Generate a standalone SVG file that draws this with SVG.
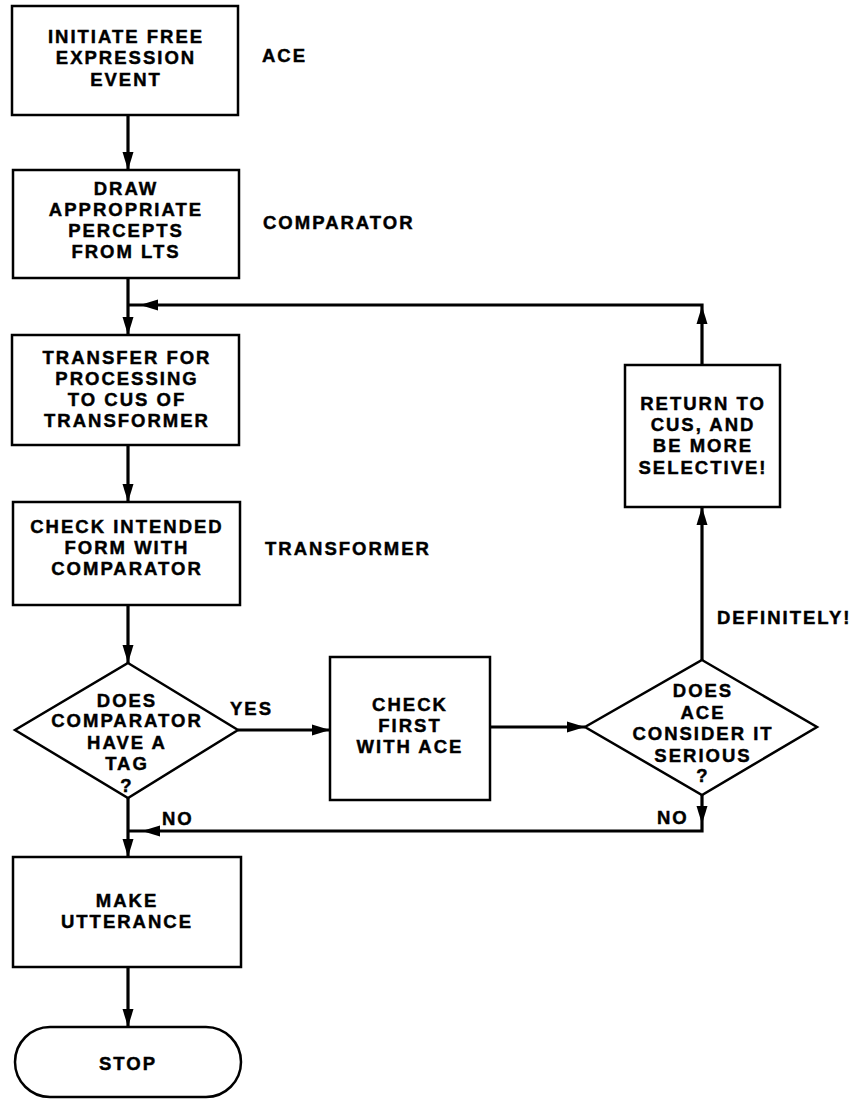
<svg xmlns="http://www.w3.org/2000/svg" xmlns:xlink="http://www.w3.org/1999/xlink" width="860" height="1107" viewBox="0 0 860 1107">
<style>
.box{fill:#fff;stroke:#000;stroke-width:2.5}
.t{font-family:"Liberation Sans",Arial,sans-serif;font-weight:bold;font-size:18.5px;letter-spacing:2px;fill:#000;stroke:#000;stroke-width:0.45}
.c{text-anchor:middle}
.ln{fill:none;stroke:#000;stroke-width:3.2}
</style>
<defs>
<path id="ah" d="M0,0 L-18,-5.5 L-18,5.5 Z" fill="#000"/>
</defs>
<rect width="860" height="1107" fill="#fff"/>
<g id="connectors">
<path class="ln" d="M128,115 V170"/>
<use xlink:href="#ah" href="#ah" transform="translate(128,170) rotate(90)"/>
<path class="ln" d="M128,278 V335"/>
<use xlink:href="#ah" href="#ah" transform="translate(128,335) rotate(90)"/>
<path class="ln" d="M702,365 V305 H128"/>
<use xlink:href="#ah" href="#ah" transform="translate(702,306) rotate(-90)"/>
<use xlink:href="#ah" href="#ah" transform="translate(140,305) rotate(180)"/>
<path class="ln" d="M128,445 V502"/>
<use xlink:href="#ah" href="#ah" transform="translate(128,502) rotate(90)"/>
<path class="ln" d="M128,605 V663"/>
<use xlink:href="#ah" href="#ah" transform="translate(128,663) rotate(90)"/>
<path class="ln" d="M238,730 H330"/>
<use xlink:href="#ah" href="#ah" transform="translate(330,730)"/>
<path class="ln" d="M490,727 H585"/>
<use xlink:href="#ah" href="#ah" transform="translate(585,727)"/>
<path class="ln" d="M702,660 V507"/>
<use xlink:href="#ah" href="#ah" transform="translate(702,507) rotate(-90)"/>
<path class="ln" d="M702,795 V831 H128"/>
<use xlink:href="#ah" href="#ah" transform="translate(702,824) rotate(90)"/>
<use xlink:href="#ah" href="#ah" transform="translate(142,831) rotate(180)"/>
<path class="ln" d="M128,798 V857"/>
<use xlink:href="#ah" href="#ah" transform="translate(128,857) rotate(90)"/>
<path class="ln" d="M128,967 V1027"/>
<use xlink:href="#ah" href="#ah" transform="translate(128,1027) rotate(90)"/>
</g>
<g id="n-initiate">
<rect class="box" x="12" y="6" width="226" height="109"/>
<text class="t c" x="126" y="42.5">INITIATE FREE</text>
<text class="t c" x="126" y="63.5">EXPRESSION</text>
<text class="t c" x="126" y="85.5">EVENT</text>
</g>
<g id="n-draw">
<rect class="box" x="13" y="170" width="226" height="108"/>
<text class="t c" x="126" y="194.5">DRAW</text>
<text class="t c" x="126" y="216">APPROPRIATE</text>
<text class="t c" x="126" y="237">PERCEPTS</text>
<text class="t c" x="126" y="258">FROM LTS</text>
</g>
<g id="n-transfer">
<rect class="box" x="12" y="335" width="227" height="110"/>
<text class="t c" x="127" y="363.5">TRANSFER FOR</text>
<text class="t c" x="127" y="384.5">PROCESSING</text>
<text class="t c" x="127" y="405.5">TO CUS OF</text>
<text class="t c" x="127" y="426.5">TRANSFORMER</text>
</g>
<g id="n-check-intended">
<rect class="box" x="13" y="502" width="227" height="103"/>
<text class="t c" x="127" y="532.5">CHECK INTENDED</text>
<text class="t c" x="127" y="553.5">FORM WITH</text>
<text class="t c" x="127" y="574.5">COMPARATOR</text>
</g>
<g id="n-tag">
<polygon class="box" points="128,663 238,730 128,798 15,730"/>
<text class="t c" x="127" y="706.5">DOES</text>
<text class="t c" x="127" y="726.5">COMPARATOR</text>
<text class="t c" x="127" y="748.5">HAVE A</text>
<text class="t c" x="127" y="769.5">TAG</text>
<text class="t c" x="127" y="791.5">?</text>
</g>
<g id="n-check-first">
<rect class="box" x="330" y="657" width="160" height="143"/>
<text class="t c" x="410" y="710.5">CHECK</text>
<text class="t c" x="410" y="731.5">FIRST</text>
<text class="t c" x="410" y="752.5">WITH ACE</text>
</g>
<g id="n-serious">
<polygon class="box" points="702,660 817,727 702,795 585,727"/>
<text class="t c" x="703" y="696.5">DOES</text>
<text class="t c" x="703" y="718.5">ACE</text>
<text class="t c" x="703" y="739.5">CONSIDER IT</text>
<text class="t c" x="703" y="761.5">SERIOUS</text>
<text class="t c" x="703" y="781.5">?</text>
</g>
<g id="n-return">
<rect class="box" x="625" y="365" width="155" height="142"/>
<text class="t c" x="703" y="409.5">RETURN TO</text>
<text class="t c" x="703" y="430.5">CUS, AND</text>
<text class="t c" x="703" y="451.5">BE MORE</text>
<text class="t c" x="703" y="473.5">SELECTIVE!</text>
</g>
<g id="n-utterance">
<rect class="box" x="13" y="857" width="228" height="110"/>
<text class="t c" x="127" y="906.5">MAKE</text>
<text class="t c" x="127" y="927.5">UTTERANCE</text>
</g>
<g id="n-stop">
<rect class="box" x="15" y="1027" width="226" height="70" rx="35" ry="35"/>
<text class="t c" x="128" y="1069.5">STOP</text>
</g>
<g id="labels">
<text class="t" x="262" y="61.5">ACE</text>
<text class="t" x="263" y="228.5">COMPARATOR</text>
<text class="t" x="265" y="554.5">TRANSFORMER</text>
<text class="t" x="230" y="714.5">YES</text>
<text class="t" x="162" y="824.5">NO</text>
<text class="t" x="657" y="823.5">NO</text>
<text class="t" x="717" y="623.5">DEFINITELY!</text>
</g>
</svg>
